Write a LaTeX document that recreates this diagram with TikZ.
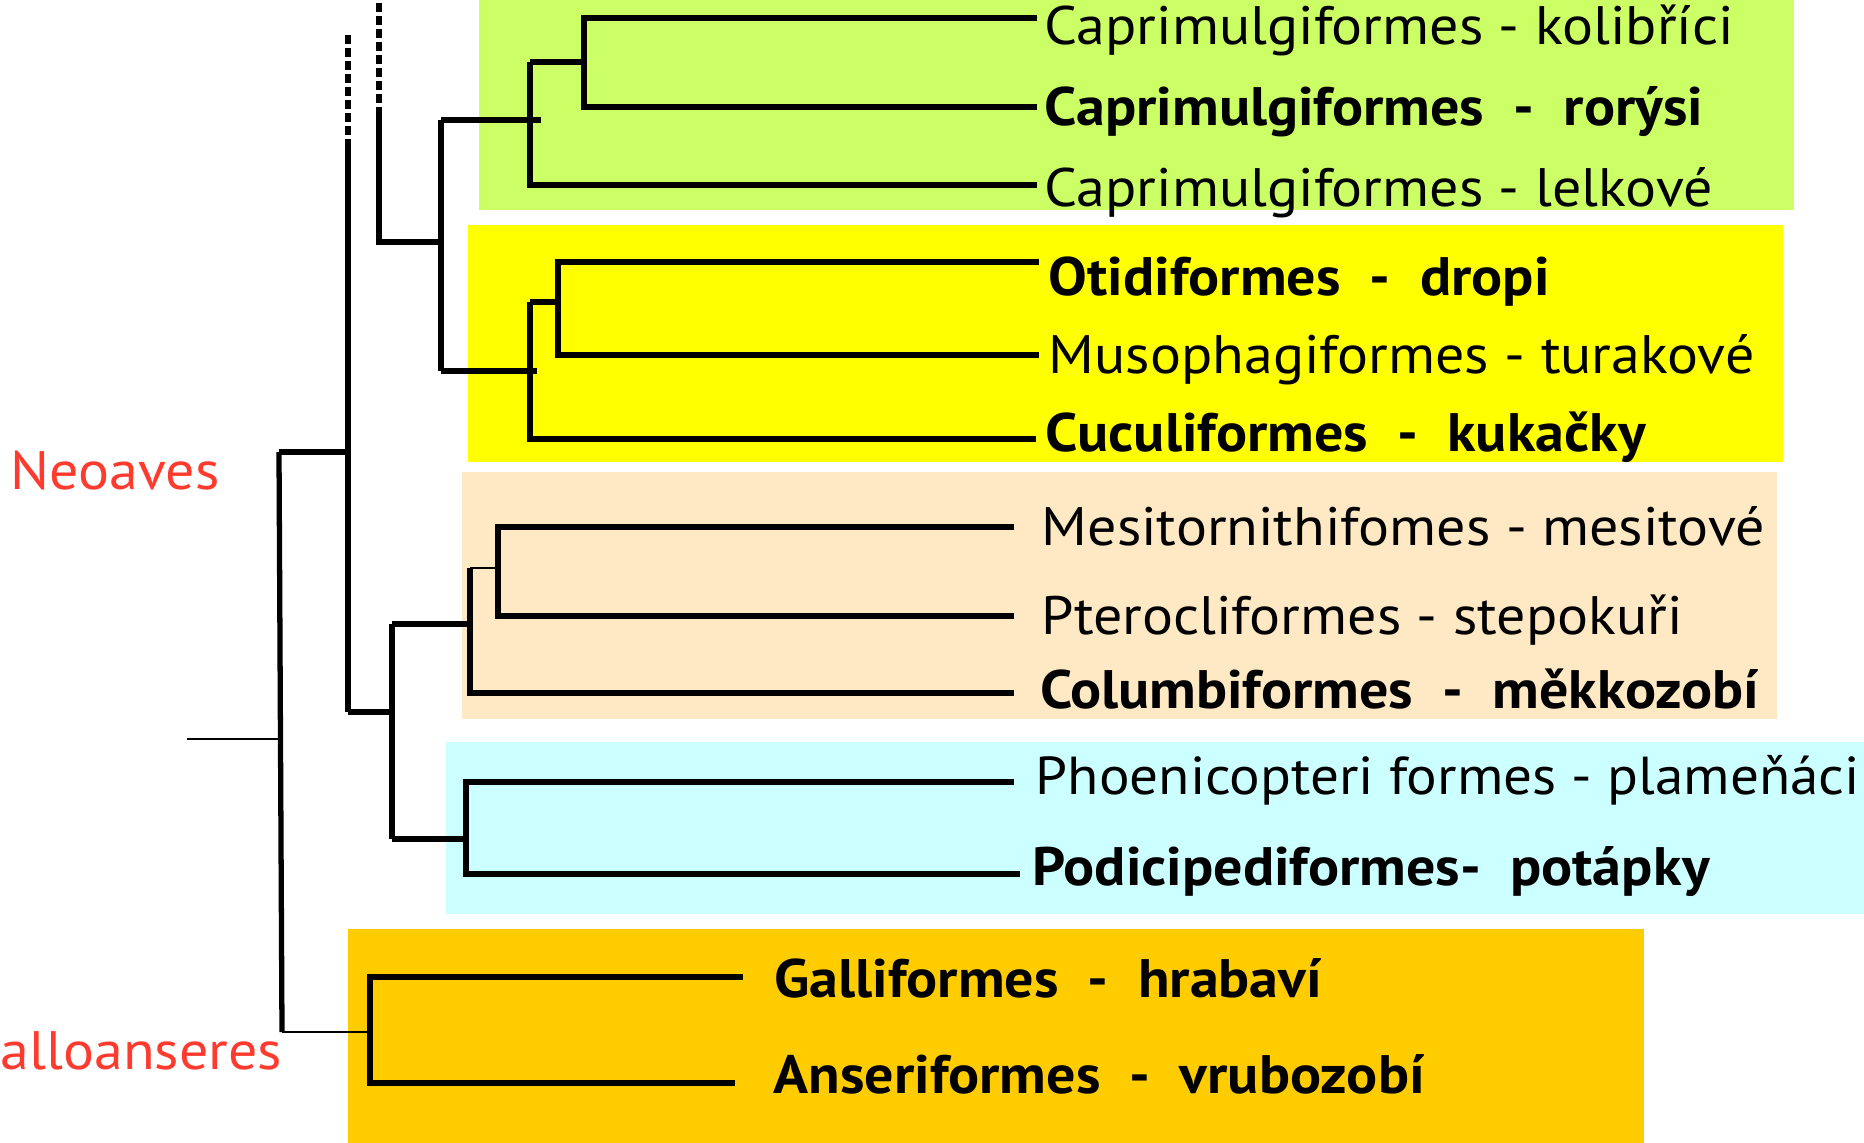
\documentclass[tikz,border=0pt]{standalone}
\usepackage{fontspec}
\setmainfont{PT Sans}[FakeStretch=1.07]
\usepackage{tikz}
\usepackage{xcolor}
\definecolor{CladeGreen}{HTML}{CCFF66}
\definecolor{CladeYellow}{HTML}{FFFF00}
\definecolor{CladePeach}{HTML}{FFE8C4}
\definecolor{CladeCyan}{HTML}{CCFFFF}
\definecolor{CladeOrange}{HTML}{FFCC00}
\definecolor{GroupRed}{HTML}{FF3B2F}
\newcommand{\taxsize}{\fontsize{15.4}{18}\selectfont}

\begin{document}
\begin{tikzpicture}[x=0.01cm, y=-0.01cm,
    branch/.style={line width=1.5pt, black},
    thinbranch/.style={line width=0.75pt, black},
    stem/.style={line width=1.5pt, black, dash pattern=on 2.6pt off 1.1pt},
    taxon/.style={anchor=west, inner xsep=2pt, inner ysep=0pt, text height=10.6pt, text depth=0pt, font=\taxsize},
    taxonb/.style={taxon, font=\taxsize\bfseries},
    group/.style={anchor=west, inner sep=0pt, text height=10.6pt, text depth=0pt, font=\taxsize, text=GroupRed}
  ]
    \useasboundingbox (0,0) rectangle (1864,1143);

    \fill[CladeGreen] (479,0) rectangle (1794,210);
    \fill[CladeYellow] (468,225) rectangle (1783,462);
    \fill[CladePeach] (462,472) rectangle (1777,719);
    \fill[CladeCyan] (446,742) rectangle (1864,914);
    \fill[CladeOrange] (348,929) rectangle (1644,1143);

    \node[taxon, text height=15.2pt] (kolibrici) at (1037,18) {Caprimulgiformes - kolibříci};
    \node[taxonb] (rorysi) at (1037,107) {Caprimulgiformes\ \ -\ \ rorýsi};
    \node[taxon, text height=12pt] (lelkove) at (1037,185) {Caprimulgiformes - lelkové};
    \node[taxonb, inner xsep=2.6pt, text height=19pt] (dropi) at (1039,262) {Otidiformes\ \ -\ \ dropi};
    \node[taxon, inner xsep=2.6pt] (turakove) at (1039,355) {Musophagiformes - turakové};
    \node[taxonb, inner xsep=2.6pt, text depth=3.4pt] (kukacky) at (1036,439) {Cuculiformes\ \ -\ \ kukačky};
    \node[taxon, inner xsep=7.7pt] (mesitove) at (1014,527) {Mesitornithifomes - mesitové};
    \node[taxon, inner xsep=7.7pt] (stepokuri) at (1014,616) {Pterocliformes - stepokuři};
    \node[taxonb, inner xsep=7.2pt, text depth=2pt] (mekkozobi) at (1014,693) {Columbiformes\ \ -\ \ měkkozobí};
    \node[taxon, inner xsep=6pt, text depth=3.4pt, font=\fontsize{15.2}{18}\selectfont] (plamenaci) at (1014,782) {Phoenicopteri formes - plameňáci};
    \node[taxonb, inner xsep=3.4pt, text depth=4pt] (potapky) at (1020,874) {Podicipediformes-\ \ potápky};
    \node[taxonb, inner xsep=8.8pt, text height=11.8pt] (hrabavi) at (743,977) {Galliformes\ \ -\ \ hrabaví};
    \node[taxonb, inner xsep=10.8pt, text depth=4.5pt] (vrubozobi) at (735,1083) {Anseriformes\ \ -\ \ vrubozobí};

    \node[group] (neoavesLabel) at (10,471) {Neoaves};
    \node[group] (galloLabel) at (0,1051) {alloanseres};

    \coordinate (root) at (187,739);
    \coordinate (aves) at (280,739);
    \coordinate (neoaves) at (279,452);
    \coordinate (galloans) at (282,1032);
    \coordinate (galA) at (370,1032);
    \coordinate (neoDash) at (348,35);
    \coordinate (neoTop) at (348,140);
    \coordinate (neoBot) at (348,712);
    \coordinate (midDash) at (379,3);
    \coordinate (midTop) at (379,108);
    \coordinate (midBot) at (379,242);
    \coordinate (cavA) at (441,120);
    \coordinate (cavB) at (441,371);
    \coordinate (strA) at (530,62);
    \coordinate (apod) at (584,62);
    \coordinate (otiA) at (530,302);
    \coordinate (musA) at (558,302);
    \coordinate (colTop) at (392,624);
    \coordinate (colBot) at (392,839);
    \coordinate (colA) at (470,568);
    \coordinate (pterA) at (498,568);
    \coordinate (mirA) at (466,839);

    \draw[thinbranch] (root) -- (aves);
    \draw[branch] (neoaves) -- (galloans);
    \draw[branch] (neoaves) -- (neoaves -| neoTop);
    \draw[thinbranch] (galloans) -- (galA);
    \draw[branch] (hrabavi.west) -| (galA) |- (vrubozobi.west);

    \draw[stem] (neoDash) -- (neoTop);
    \draw[branch] (neoTop) -- (neoBot);
    \draw[branch] (neoBot) -- (colTop |- neoBot);
    \draw[branch] (colTop) -- (colBot);
    \draw[branch] (colTop) -- (colTop -| colA);
    \draw[branch] (colA) |- (mekkozobi.west);
    \draw[thinbranch] (colA) -- (pterA);
    \draw[branch] (mesitove.west) -| (pterA) |- (stepokuri.west);
    \draw[branch] (colBot) -- (mirA);
    \draw[branch] (plamenaci.west) -| (mirA) |- (potapky.west);

    \draw[stem] (midDash) -- (midTop);
    \draw[branch] (midTop) |- (cavA |- midBot);
    \draw[branch] (cavA) -- (cavB);
    \draw[branch, shorten >=-3pt] (cavA) -- (strA |- cavA);
    \draw[branch, shorten >=-2pt] (cavB) -- (otiA |- cavB);
    \draw[branch] (strA) |- (lelkove.west);
    \draw[branch] (strA) -- (apod);
    \draw[branch] (kolibrici.west) -| (apod) |- (rorysi.west);
    \draw[branch] (otiA) |- (kukacky.west);
    \draw[branch] (otiA) -- (musA);
    \draw[branch] (dropi.west) -| (musA) |- (turakove.west);
  \end{tikzpicture}
\end{document}
